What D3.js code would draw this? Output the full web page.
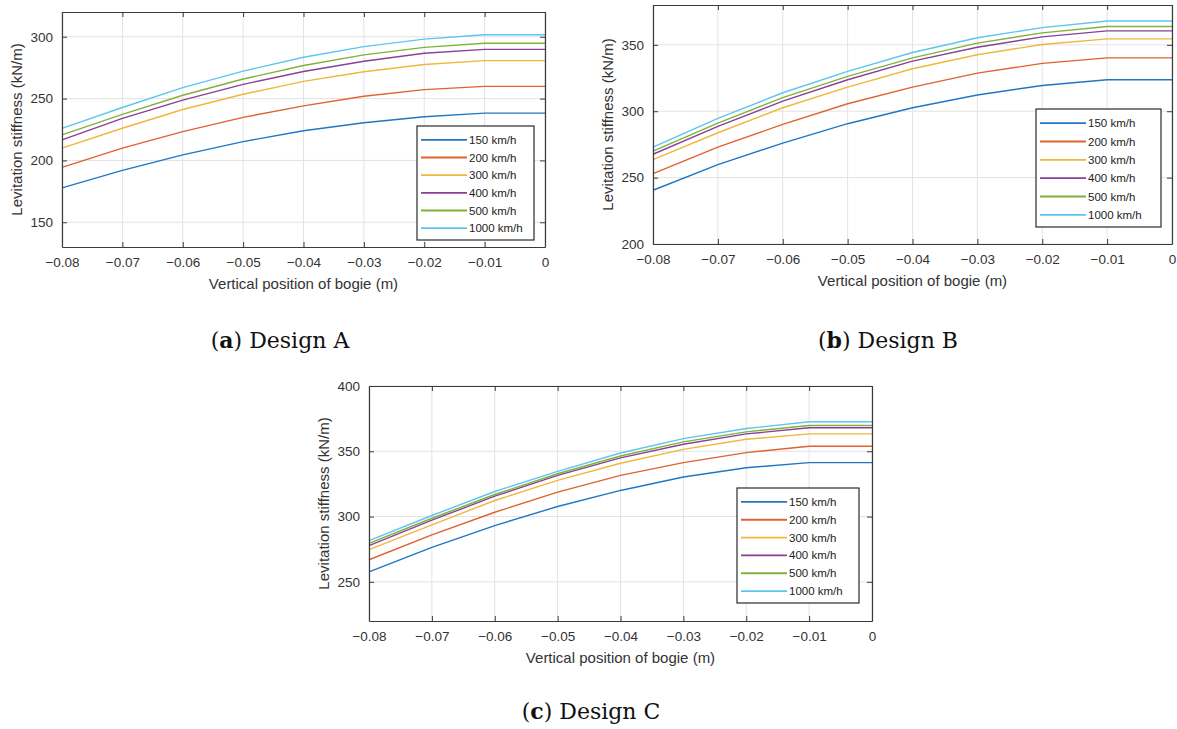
<!DOCTYPE html>
<html>
<head>
<meta charset="utf-8">
<script src="https://cdn.jsdelivr.net/npm/d3@7"></script>
<style>
  html, body { margin: 0; padding: 0; background: #ffffff; }
  svg { display: block; }
  .tick text { font-family: "Liberation Sans", Arial, sans-serif; }
</style>
</head>
<body>
<svg id="fig" width="1177" height="729"></svg>
<script>
// Vertical position of the bogie (m)
const positions = [-0.08, -0.07, -0.06, -0.05, -0.04, -0.03, -0.02, -0.01, 0];
const speeds = ["150 km/h", "200 km/h", "300 km/h", "400 km/h", "500 km/h", "1000 km/h"];
const speedColors = ["#1f77c4", "#e0622f", "#f0b73a", "#8a3f98", "#7fb23a", "#5cc6ef"];
const xTickValues = [-0.08, -0.07, -0.06, -0.05, -0.04, -0.03, -0.02, -0.01, 0];
const xTickLabels = ["\u22120.08", "\u22120.07", "\u22120.06", "\u22120.05", "\u22120.04", "\u22120.03", "\u22120.02", "\u22120.01", "0"];

// Levitation stiffness (kN/m), one row per speed
const designA = [
  [177.8, 192.0, 204.5, 215.2, 224.0, 230.5, 235.3, 238.2, 238.2],
  [194.4, 209.9, 223.3, 234.8, 244.1, 251.9, 257.2, 259.9, 259.9],
  [209.9, 226.0, 241.2, 253.5, 263.9, 271.7, 277.5, 280.7, 280.7],
  [216.6, 234.0, 248.7, 261.5, 271.9, 280.2, 286.6, 289.8, 289.8],
  [220.6, 237.2, 252.7, 265.8, 276.7, 285.3, 291.4, 294.7, 294.7],
  [225.9, 242.8, 258.8, 272.2, 283.4, 292.0, 298.1, 301.6, 301.6]
];
const designB = [
  [240.5, 259.8, 276.0, 290.6, 302.6, 312.2, 319.4, 323.7, 323.7],
  [253.0, 273.0, 290.1, 305.6, 318.2, 328.7, 336.0, 340.2, 340.2],
  [263.5, 283.8, 302.6, 318.2, 332.0, 342.5, 350.3, 354.5, 354.5],
  [267.6, 288.6, 307.6, 323.7, 337.7, 348.2, 356.0, 360.5, 360.5],
  [270.0, 291.1, 310.2, 326.2, 340.2, 351.3, 359.0, 363.8, 363.8],
  [273.0, 294.6, 313.9, 330.0, 344.2, 355.3, 363.0, 368.0, 368.0]
];
const designC = [
  [257.7, 276.4, 293.1, 307.7, 320.0, 330.3, 337.4, 341.3, 341.3],
  [266.9, 285.9, 303.3, 318.7, 331.5, 341.3, 349.0, 353.8, 353.8],
  [274.6, 293.6, 312.3, 327.7, 340.8, 351.5, 359.2, 363.3, 363.3],
  [277.7, 297.2, 315.6, 331.5, 344.9, 355.4, 363.3, 368.0, 368.0],
  [279.5, 298.7, 316.9, 332.8, 346.4, 357.2, 364.9, 369.7, 369.7],
  [281.5, 300.8, 319.2, 334.6, 348.7, 359.7, 367.4, 372.6, 372.6]
];

const yTicksA = [150, 200, 250, 300];
const yTicksB = [200, 250, 300, 350];
const yTicksC = [250, 300, 350, 400];

const xTitle = "Vertical position of bogie (m)";
const yTitle = "Levitation stiffness (kN/m)";

// Panel frames and captions
const panels = [
  { data: designA, yDomain: [130, 320], yTicks: yTicksA,
    box: { left: 62, right: 545, top: 12, bottom: 247 },
    legend: { x: 417, y: 126, w: 117, h: 114 },
    caption: { x: 280, y: 348, letter: "a", text: " Design A" } },
  { data: designB, yDomain: [200, 380], yTicks: yTicksB,
    box: { left: 653, right: 1172, top: 5, bottom: 244 },
    legend: { x: 1036, y: 109, w: 125, h: 118 },
    caption: { x: 888, y: 348, letter: "b", text: " Design B" } },
  { data: designC, yDomain: [220, 400], yTicks: yTicksC,
    box: { left: 369, right: 872, top: 386, bottom: 621 },
    legend: { x: 737, y: 488, w: 122, h: 115 },
    caption: { x: 591, y: 719, letter: "c", text: " Design C" } }
];

const svg = d3.select("#fig");
const fontSans = "'Liberation Sans', Arial, sans-serif";
const axisColor = "#3a3a3a";
const textColor = "#333333";

panels.forEach(p => {
  const b = p.box;
  const x = d3.scaleLinear().domain([-0.08, 0]).range([b.left, b.right]);
  const y = d3.scaleLinear().domain(p.yDomain).range([b.bottom, b.top]);
  const g = svg.append("g");

  // grid
  g.append("g").selectAll("line.gx").data(xTickValues).join("line")
    .attr("x1", d => x(d)).attr("x2", d => x(d))
    .attr("y1", b.top).attr("y2", b.bottom)
    .attr("stroke", "#e3e3e3").attr("stroke-width", 1);
  g.append("g").selectAll("line.gy").data(p.yTicks).join("line")
    .attr("x1", b.left).attr("x2", b.right)
    .attr("y1", d => y(d)).attr("y2", d => y(d))
    .attr("stroke", "#e3e3e3").attr("stroke-width", 1);

  // series
  const line = d3.line().x((d, i) => x(positions[i])).y(d => y(d));
  p.data.forEach((vals, k) => {
    g.append("path").datum(vals)
      .attr("d", line)
      .attr("fill", "none")
      .attr("stroke", speedColors[k])
      .attr("stroke-width", 1.4);
  });

  // axes (ticks pointing inward, box on all sides)
  const fmtX = d => xTickLabels[xTickValues.indexOf(d)];
  const xAxis = d3.axisBottom(x).tickValues(xTickValues).tickFormat(fmtX)
    .tickSizeInner(-5).tickSizeOuter(0).tickPadding(10);
  const xAxisTop = d3.axisTop(x).tickValues(xTickValues).tickFormat("")
    .tickSizeInner(-5).tickSizeOuter(0);
  const yAxis = d3.axisLeft(y).tickValues(p.yTicks).tickFormat(d3.format("d"))
    .tickSizeInner(-5).tickSizeOuter(0).tickPadding(9);
  const yAxisRight = d3.axisRight(y).tickValues(p.yTicks).tickFormat("")
    .tickSizeInner(-5).tickSizeOuter(0);

  const styleAxis = sel => {
    sel.selectAll("path.domain").attr("stroke", axisColor).attr("stroke-width", 1.2);
    sel.selectAll(".tick line").attr("stroke", axisColor);
    sel.selectAll(".tick text").attr("fill", textColor)
      .style("font-size", "13.5px").style("font-family", fontSans);
  };
  g.append("g").attr("transform", `translate(0,${b.bottom})`).call(xAxis).call(styleAxis);
  g.append("g").attr("transform", `translate(0,${b.top})`).call(xAxisTop).call(styleAxis);
  g.append("g").attr("transform", `translate(${b.left},0)`).call(yAxis).call(styleAxis);
  g.append("g").attr("transform", `translate(${b.right},0)`).call(yAxisRight).call(styleAxis);

  // axis titles
  g.append("text")
    .attr("x", (b.left + b.right) / 2).attr("y", b.bottom + 42)
    .attr("text-anchor", "middle")
    .attr("fill", textColor)
    .style("font-family", fontSans).style("font-size", "15px")
    .text(xTitle);
  g.append("text")
    .attr("transform", `translate(${b.left - 40},${(b.top + b.bottom) / 2}) rotate(-90)`)
    .attr("text-anchor", "middle")
    .attr("fill", textColor)
    .style("font-family", fontSans).style("font-size", "15px")
    .text(yTitle);

  // legend
  const L = p.legend;
  const lg = g.append("g").attr("transform", `translate(${L.x},${L.y})`);
  lg.append("rect").attr("width", L.w).attr("height", L.h)
    .attr("fill", "#ffffff").attr("stroke", "#2a2a2a").attr("stroke-width", 1.2);
  const rowH = (L.h - 8) / speeds.length;
  speeds.forEach((s, k) => {
    const cy = 4 + rowH * (k + 0.5) + 1;
    lg.append("line").attr("x1", 4).attr("x2", 50).attr("y1", cy).attr("y2", cy)
      .attr("stroke", speedColors[k]).attr("stroke-width", 1.8);
    lg.append("text").attr("x", 52).attr("y", cy + 4)
      .attr("fill", "#222")
      .style("font-family", fontSans).style("font-size", "11.5px")
      .text(s);
  });

  // caption
  const c = p.caption;
  const t = svg.append("text")
    .attr("x", c.x).attr("y", c.y)
    .attr("text-anchor", "middle")
    .attr("fill", "#111")
    .style("font-family", "'DejaVu Serif', serif").style("font-size", "22px");
  t.append("tspan").text("(");
  t.append("tspan").attr("font-weight", "bold").text(c.letter);
  t.append("tspan").text(")" + c.text);
});
</script>
</body>
</html>
